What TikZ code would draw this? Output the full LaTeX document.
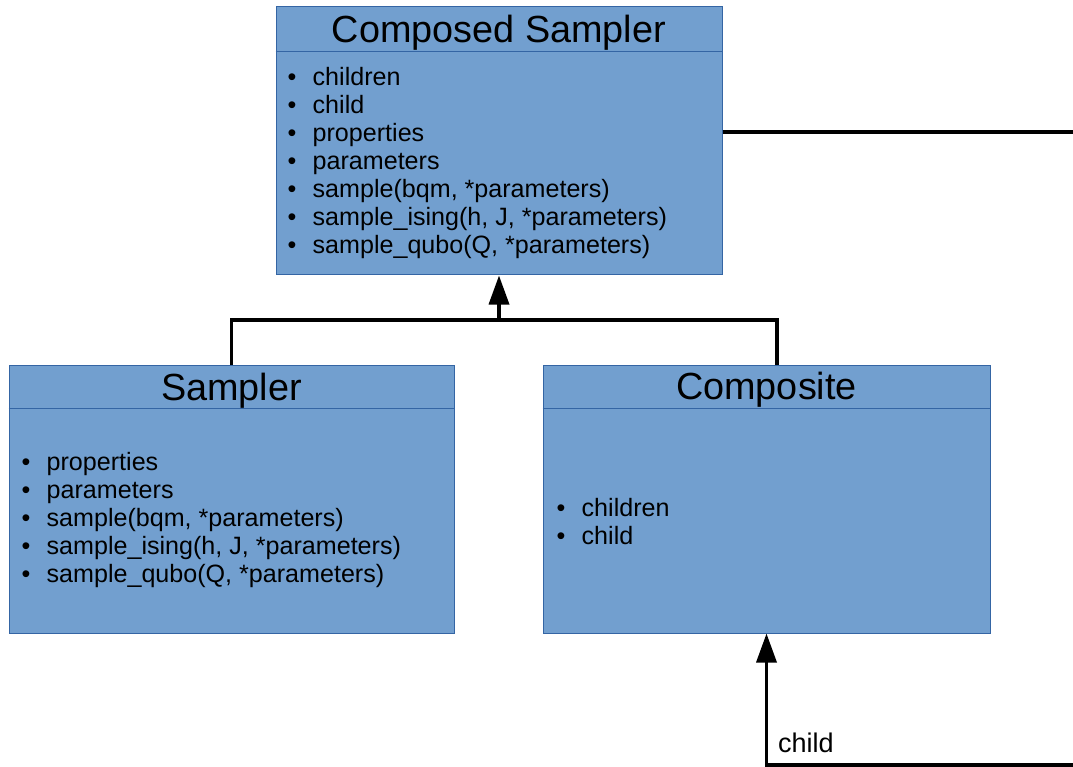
\documentclass[tikz,border=0pt]{standalone}
\usepackage{fontspec}
\setmainfont{Liberation Sans}
\usetikzlibrary{arrows.meta, positioning}
\definecolor{boxfill}{HTML}{729FCF}
\definecolor{boxline}{HTML}{3465A4}
\tikzstyle{classbox} = [rectangle, draw=boxline, fill=boxfill, line width=1pt, minimum height=268pt, inner sep=0pt]
\tikzstyle{classtitle} = [font=\fontsize{37.8}{40}\selectfont, inner sep=0pt, anchor=base]
\tikzstyle{members} = [font=\fontsize{25.1}{28}\selectfont, align=left, inner sep=0pt, anchor=west]
\tikzstyle{divider} = [draw=boxline, line width=1pt]
\tikzstyle{link} = [line width=3.5pt]
\tikzstyle{arrow} = [line width=3.5pt, -{Triangle[length=29pt,width=20pt]}]
\tikzstyle{edgelabel} = [font=\fontsize{27}{28}\selectfont, inner sep=0pt, anchor=base west]
\newcommand{\itm}[1]{\makebox[25pt][l]{\textbullet}#1}

\begin{document}
\begin{tikzpicture}[x=1pt, y=-1pt]
	\useasboundingbox (0,0) rectangle (1073,767);
	%----------------------------------------------------%
	\node(cs) [classbox, minimum width=446pt] at (499,141) {};
	\node(cstitle) [classtitle] at ([yshift=-36pt]cs.north) {Composed Sampler};
	\draw[divider] ([yshift=-45pt]cs.north west) -- ([yshift=-45pt]cs.north east);
	\node(csbody) [members] at ([xshift=12pt, yshift=-156.5pt]cs.north west) {\itm{children}\\ \itm{child}\\ \itm{properties}\\ \itm{parameters}\\ \itm{sample(bqm, *parameters)}\\ \itm{sample\_ising(h, J, *parameters)}\\ \itm{sample\_qubo(Q, *parameters)}};
	%----------------------------------------------------%
	\node(smp) [classbox, minimum width=445pt] at (231.5,499) {};
	\node(smptitle) [classtitle] at ([yshift=-35.5pt]smp.north) {Sampler};
	\draw[divider] ([yshift=-44pt]smp.north west) -- ([yshift=-44pt]smp.north east);
	\node(smpbody) [members] at ([xshift=13pt, yshift=-156pt]smp.north west) {\itm{properties}\\ \itm{parameters}\\ \itm{sample(bqm, *parameters)}\\ \itm{sample\_ising(h, J, *parameters)}\\ \itm{sample\_qubo(Q, *parameters)}};
	%----------------------------------------------------%
	\node(cmp) [classbox, minimum width=447pt] at (766.5,499) {};
	\node(cmptitle) [classtitle] at ([yshift=-35pt]cmp.north) {Composite};
	\draw[divider] ([yshift=-44pt]cmp.north west) -- ([yshift=-44pt]cmp.north east);
	\node(cmpbody) [members] at ([xshift=14pt, yshift=-157pt]cmp.north west) {\itm{children}\\ \itm{child}};
	%----------------------------------------------------%
	\coordinate(join) at (499,320);
	\coordinate(loop) at (1077,765);
	\draw[arrow] (join) -- (cs.south);
	\draw[link] (smp.north) |- (join) -| ([xshift=10.5pt]cmp.north);
	\draw[arrow] ([yshift=9pt]cs.east) -| (loop) -| (cmp.south);
	\node(childlbl) [edgelabel] at (778,752) {child};
\end{tikzpicture}
\end{document}
